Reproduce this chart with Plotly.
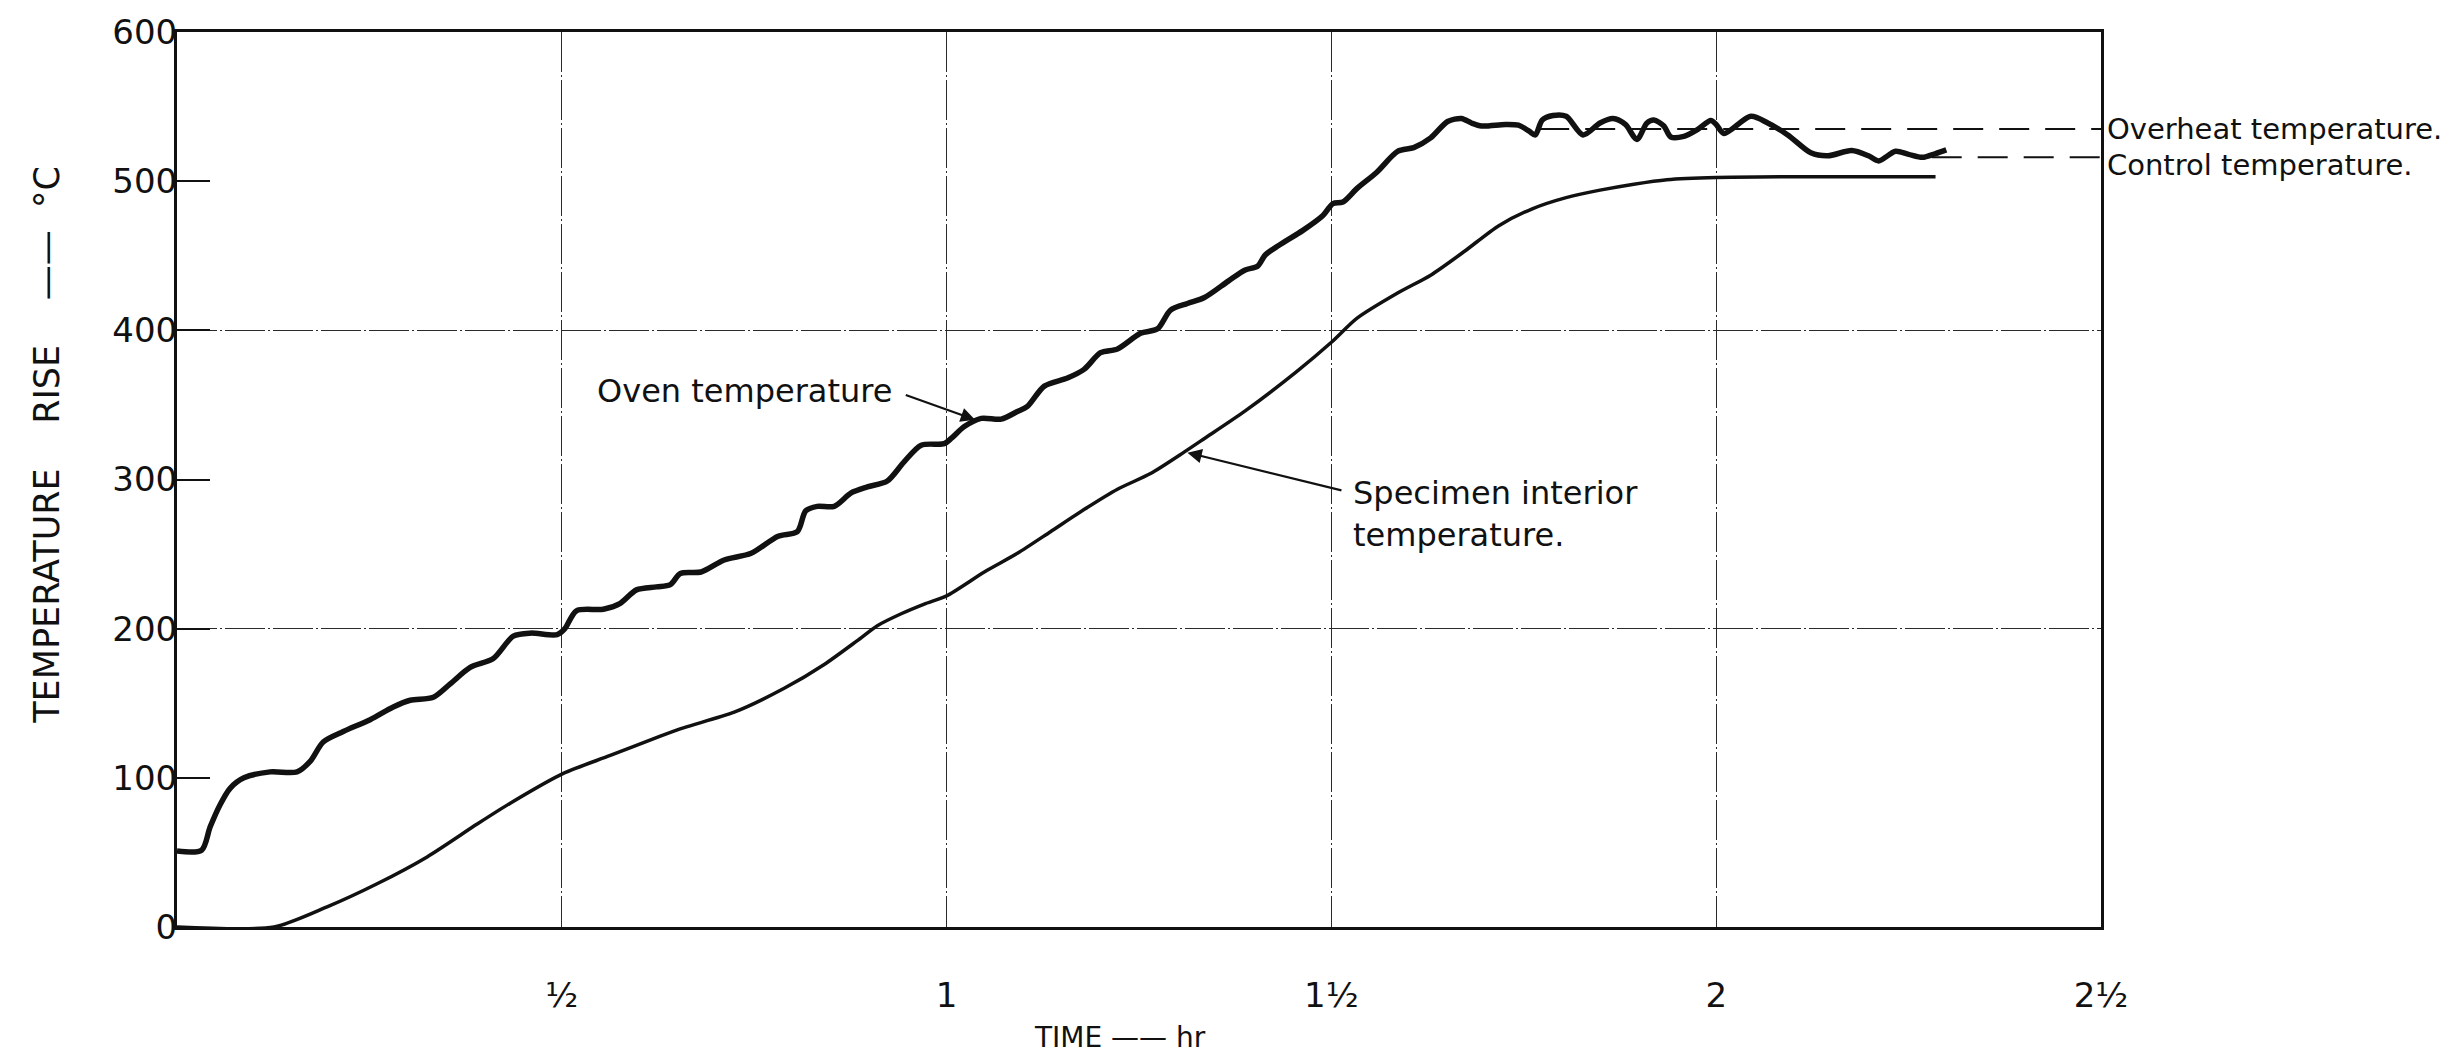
import plotly.graph_objects as go

# ---------------- data ----------------
oven_time = [0.000, 0.032, 0.043, 0.056, 0.069, 0.087, 0.121, 0.156, 0.173, 0.190,
             0.216, 0.251, 0.281, 0.303, 0.333, 0.355, 0.381, 0.411, 0.437, 0.459,
             0.494, 0.504, 0.519, 0.554, 0.576, 0.597, 0.623, 0.641, 0.654, 0.681,
             0.711, 0.746, 0.781, 0.806, 0.817, 0.832, 0.854, 0.876, 0.897, 0.923,
             0.945, 0.967, 0.997, 1.006, 1.023, 1.045, 1.071, 1.092, 1.105, 1.127,
             1.157, 1.179, 1.200, 1.222, 1.252, 1.274, 1.291, 1.313, 1.335, 1.366,
             1.388, 1.404, 1.414, 1.432, 1.463, 1.489, 1.502, 1.515, 1.533, 1.559,
             1.586, 1.607, 1.629, 1.651, 1.669, 1.682, 1.695, 1.726, 1.743, 1.757,
             1.765, 1.774, 1.788, 1.805, 1.827, 1.849, 1.866, 1.882, 1.897, 1.910,
             1.919, 1.932, 1.941, 1.958, 1.976, 1.993, 2.000, 2.010, 2.045, 2.067,
             2.093, 2.123, 2.145, 2.176, 2.198, 2.211, 2.233, 2.250, 2.268, 2.285,
             2.299]
oven_temp = [51, 51.5, 67, 82, 93, 100, 104, 104, 111, 124,
             131, 139, 147.5, 152, 154, 163, 174, 180, 195, 197,
             196, 200, 212, 213, 217, 226, 228, 229.5, 237, 238,
             246, 250.5, 262, 265, 279, 282, 282, 291, 295, 299,
             312, 323, 324, 327.5, 335.5, 341, 340.5, 345.6, 349, 362.6,
             368, 374, 385, 387.5, 398, 401, 413.6, 418, 422, 433,
             440.5, 443, 450.5, 457, 467, 477, 485, 486, 495, 506,
             520, 522.5, 529, 540, 542, 539, 537, 538, 537.5, 533.5,
             531, 541, 544, 543.5, 531, 539, 542, 538, 528, 539,
             541, 537, 529.6, 530, 534.7, 540.6, 538, 532, 543.5, 539,
             531, 519, 517, 520.5, 517, 513.6, 520, 518, 516, 518.5,
             521]

specimen_time = [0.000, 0.126, 0.195, 0.260, 0.325, 0.390, 0.433, 0.502, 0.563, 0.628,
                 0.659, 0.724, 0.789, 0.841, 0.884, 0.910, 0.941, 0.971, 1.000, 1.049,
                 1.092, 1.135, 1.179, 1.222, 1.265, 1.309, 1.335, 1.388, 1.454, 1.500,
                 1.533, 1.586, 1.629, 1.673, 1.717, 1.761, 1.805, 1.849, 1.893, 1.936,
                 2.000, 2.100, 2.200, 2.285]
specimen_temp = [0, 0, 13.5, 29, 47, 69, 83, 103, 115, 128,
                 133.7, 144, 160, 176, 192, 202, 210, 216.5, 222, 238,
                 250.5, 265, 280, 293.5, 304, 318.5, 327.5, 346, 372, 392,
                 408, 425, 437, 453, 470, 481.5, 489, 494, 498, 501,
                 502.5, 503, 503, 503]

overheat_temp = 535
control_temp = 516
overheat_time = [1.77, 2.5]
control_time = [2.28, 2.5]

x_tick_vals = [0.5, 1, 1.5, 2, 2.5]
x_tick_text = ["½", "1", "1½", "2", "2½"]
y_tick_vals = [0, 100, 200, 300, 400, 500, 600]
y_grid_vals = [200, 400]

FONT = "DejaVu Sans"
BLACK = "#111111"
GRID = "#2a2a2a"
GRID_DASH = "40px,3px,2px,3px"

fig = go.Figure()

fig.add_trace(go.Scatter(
    x=overheat_time, y=[overheat_temp] * len(overheat_time), mode="lines",
    line=dict(color=BLACK, width=2, dash="30px,16px"), hoverinfo="skip"))
fig.add_trace(go.Scatter(
    x=control_time, y=[control_temp] * len(control_time), mode="lines",
    line=dict(color=BLACK, width=2, dash="30px,16px"), hoverinfo="skip"))

fig.add_trace(go.Scatter(
    x=specimen_time, y=specimen_temp, mode="lines", name="Specimen interior temperature",
    line=dict(color=BLACK, width=3.5, shape="spline", smoothing=0.7)))
fig.add_trace(go.Scatter(
    x=oven_time, y=oven_temp, mode="lines", name="Oven temperature",
    line=dict(color=BLACK, width=5.5, shape="spline", smoothing=0.8)))

fig.update_layout(
    width=2462, height=1057, autosize=False,
    margin=dict(l=177, r=361, t=24, b=130),
    paper_bgcolor="white", plot_bgcolor="white",
    showlegend=False,
    font=dict(family=FONT, color=BLACK),
    xaxis=dict(
        range=[0, 2.5], tickmode="array", tickvals=x_tick_vals, ticktext=x_tick_text,
        showgrid=True, gridcolor=GRID, gridwidth=1.2, griddash=GRID_DASH,
        showline=True, mirror=True, linecolor=BLACK, linewidth=3,
        ticks="", zeroline=False, tickfont=dict(size=34, family=FONT, color=BLACK),
        ticklabelstandoff=36, ticklabeloverflow="allow",
    ),
    yaxis=dict(
        range=[0, 600], tickmode="array", tickvals=y_tick_vals,
        ticktext=[str(v) for v in y_tick_vals],
        showgrid=False, ticks="inside", ticklen=33, tickwidth=2, tickcolor=BLACK,
        minor=dict(tickmode="array", tickvals=y_grid_vals, showgrid=True,
                   gridcolor=GRID, gridwidth=1.2, griddash=GRID_DASH, ticks=""),
        showline=True, mirror=True, linecolor=BLACK, linewidth=3,
        zeroline=False, tickfont=dict(size=34, family=FONT, color=BLACK),
        ticklabelstandoff=-10, ticklabeloverflow="allow",
    ),
)

ann_font = dict(family=FONT, size=32, color=BLACK)
nb = "\u00a0"
annotations = [
    # axis titles
    dict(text="TIME" + nb + "——" + nb + "hr", xref="paper", yref="paper",
         x=0.490, y=-0.123, xanchor="center", yanchor="middle", showarrow=False,
         font=dict(family=FONT, size=28, color=BLACK)),
    dict(text="TEMPERATURE" + nb * 4 + "RISE" + nb * 4 + "——" + nb * 2 + "°C",
         xref="paper", yref="paper", x=-0.068, y=0.539, textangle=-90,
         xanchor="center", yanchor="middle", showarrow=False,
         font=dict(family=FONT, size=35, color=BLACK)),
    # oven label + arrow
    dict(text="Oven temperature", xref="x", yref="y", x=0.931, y=359.5,
         xanchor="right", yanchor="middle", showarrow=False, font=ann_font),
    dict(text="", xref="x", yref="y", x=1.037, y=340, axref="x", ayref="y",
         ax=0.945, ay=357, showarrow=True, arrowhead=2, arrowsize=1.3,
         arrowwidth=2.2, arrowcolor=BLACK),
    # specimen label + arrow
    dict(text="Specimen interior<br>temperature.", xref="x", yref="y", x=1.525, y=277,
         xanchor="left", yanchor="middle", align="left", showarrow=False, font=ann_font),
    dict(text="", xref="x", yref="y", x=1.313, y=318, axref="x", ayref="y",
         ax=1.515, ay=292.5, showarrow=True, arrowhead=2, arrowsize=1.3,
         arrowwidth=2.2, arrowcolor=BLACK),
    # right-side labels
    dict(text="Overheat temperature.", xref="x", yref="y", x=2.5, y=535, xshift=4,
         xanchor="left", yanchor="middle", showarrow=False,
         font=dict(family=FONT, size=29, color=BLACK)),
    dict(text="Control temperature.", xref="x", yref="y", x=2.5, y=511, xshift=4,
         xanchor="left", yanchor="middle", showarrow=False,
         font=dict(family=FONT, size=29, color=BLACK)),
]
fig.update_layout(annotations=annotations)

# remove the browser's default 8px body margin so the figure fills the window exactly
fig.write_html("out.html",
               config={"displayModeBar": False},
               post_script="document.body.style.margin='0px';"
                           "document.body.style.overflow='hidden';")
